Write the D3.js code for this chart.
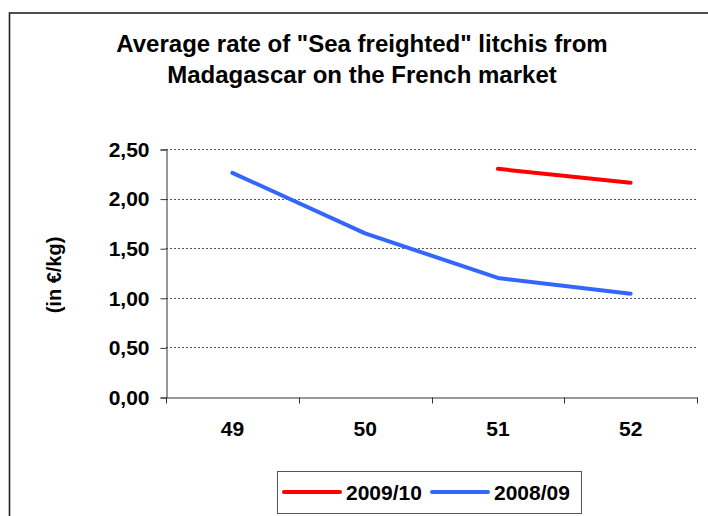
<!DOCTYPE html>
<html>
<head>
<meta charset="utf-8">
<script src="https://cdn.jsdelivr.net/npm/d3@7"></script>
<style>
  body { margin: 0; background: #fff; }
  svg { display: block; font-family: "Liberation Sans", Arial, sans-serif; font-weight: bold; }
</style>
</head>
<body>
<div id="chart"></div>
<script>
// weeks on the x axis
const weeks = ["49", "50", "51", "52"];
// average rate, in euro per kg (null = no data)
const season0910 = [null, null, 2.30, 2.16];
const season0809 = [2.26, 1.65, 1.20, 1.04];
const yTicks = [0, 0.5, 1, 1.5, 2, 2.5];
const seriesNames = ["2009/10", "2008/09"];
const seriesColors = ["#ff0000", "#3366ff"];
const titleLines = ["Average rate of \"Sea freighted\" litchis from", "Madagascar on the French market"];

(function () {
    "use strict";

    const width = 708, height = 516;
    const plot = { left: 166, right: 697, top: 149, bottom: 397 };

    const locale = d3.formatLocale({ decimal: ",", thousands: ".", grouping: [3], currency: ["", "€"] });
    const fmt = locale.format(".2f");

    const svg = d3.select("#chart").append("svg")
        .attr("width", width)
        .attr("height", height);

    // outer chart frame (runs off right / bottom)
    svg.append("rect")
        .attr("x", 9.5).attr("y", 13)
        .attr("width", 760).attr("height", 600)
        .attr("fill", "none")
        .attr("stroke", "#222")
        .attr("stroke-width", 1.6);

    // title
    svg.append("g").selectAll("text")
        .data(titleLines)
        .enter().append("text")
            .attr("x", 362)
            .attr("y", (d, i) => 52 + i * 31)
            .attr("text-anchor", "middle")
            .attr("font-size", 24)
            .attr("fill", "#000")
            .text(d => d);

    const x = d3.scaleBand().domain(weeks).range([plot.left, plot.right]);
    const y = d3.scaleLinear().domain([0, 2.5]).range([plot.bottom, plot.top]);

    // grid lines
    svg.append("g").selectAll("line")
        .data(yTicks.filter(v => v > 0))
        .enter().append("line")
            .attr("x1", plot.left).attr("x2", plot.right)
            .attr("y1", d => Math.round(y(d)) + 0.5)
            .attr("y2", d => Math.round(y(d)) + 0.5)
            .attr("stroke", "#555")
            .attr("stroke-dasharray", "2,2");

    // y axis
    const yAxis = svg.append("g")
        .attr("transform", "translate(" + (plot.left + 0.5) + ",0.5)")
        .call(d3.axisLeft(y).tickValues(yTicks).tickFormat(fmt).tickSize(6).tickPadding(11));
    yAxis.select(".domain").attr("stroke", "#333");
    yAxis.selectAll(".tick line").attr("stroke", "#333");
    yAxis.selectAll(".tick text")
        .attr("font-size", 21)
        .attr("font-family", "Liberation Sans, Arial, sans-serif")
        .attr("font-weight", "bold")
        .attr("fill", "#000");

    // x axis: labels at band centres, ticks at band edges
    const xAxis = svg.append("g")
        .attr("transform", "translate(0," + (plot.bottom + 0.5) + ")")
        .call(d3.axisBottom(x).tickSize(0).tickPadding(24));
    xAxis.select(".domain").attr("stroke", "#333");
    xAxis.selectAll(".tick text")
        .attr("font-size", 21)
        .attr("font-family", "Liberation Sans, Arial, sans-serif")
        .attr("font-weight", "bold")
        .attr("fill", "#000");

    const edges = weeks.map(w => x(w)).concat([x.range()[1]]);
    xAxis.selectAll(".edge")
        .data(edges)
        .enter().append("line")
            .attr("class", "edge")
            .attr("x1", d => Math.round(d) + 0.5).attr("x2", d => Math.round(d) + 0.5)
            .attr("y1", 0).attr("y2", 6)
            .attr("stroke", "#333");

    // y axis title
    svg.append("text")
        .attr("transform", "translate(61,275) rotate(-90)")
        .attr("text-anchor", "middle")
        .attr("font-size", 20)
        .attr("fill", "#000")
        .text("(in €/kg)");

    // series lines
    const line = d3.line()
        .defined(d => d != null)
        .x((d, i) => x(weeks[i]) + x.bandwidth() / 2)
        .y(d => y(d));

    svg.append("g").selectAll("path")
        .data([season0809, season0910])
        .enter().append("path")
            .attr("d", d => line(d))
            .attr("fill", "none")
            .attr("stroke", (d, i) => seriesColors[1 - i])
            .attr("stroke-width", 4)
            .attr("stroke-linecap", "round")
            .attr("stroke-linejoin", "round");

    // legend
    const legend = svg.append("g");
    legend.append("rect")
        .attr("x", 277.5).attr("y", 471.5)
        .attr("width", 304).attr("height", 42)
        .attr("fill", "#fff")
        .attr("stroke", "#555");

    const items = legend.selectAll(".item")
        .data(seriesNames)
        .enter().append("g")
            .attr("class", "item")
            .attr("transform", (d, i) => "translate(" + (284 + i * 148) + ",0)");
    items.append("line")
        .attr("x1", 0).attr("x2", 56)
        .attr("y1", 492).attr("y2", 492)
        .attr("stroke", (d, i) => seriesColors[i])
        .attr("stroke-width", 4)
        .attr("stroke-linecap", "round");
    items.append("text")
        .attr("x", 62).attr("y", 499.5)
        .attr("font-size", 21)
        .attr("fill", "#000")
        .text(d => d);
})();
</script>
</body>
</html>
